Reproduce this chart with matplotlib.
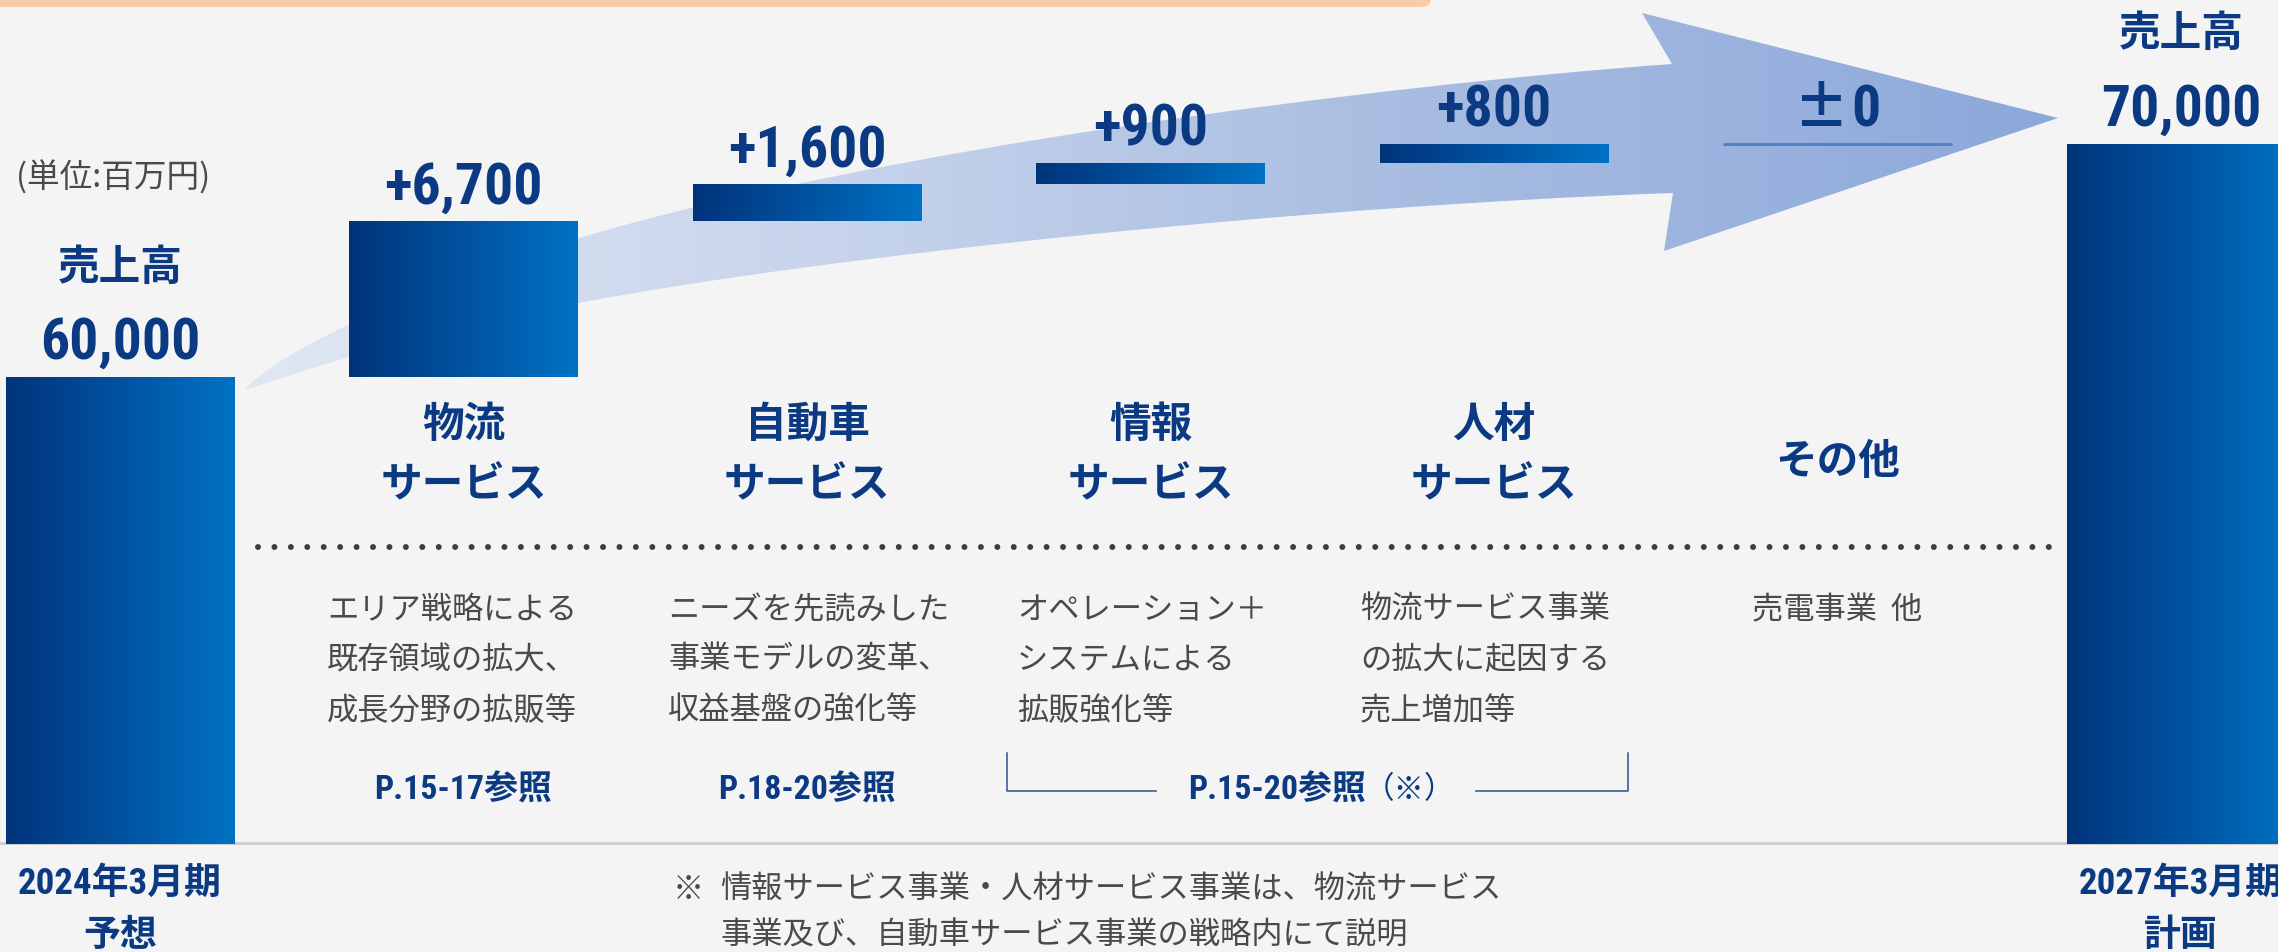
import numpy as np
import matplotlib
matplotlib.use("Agg")
import matplotlib.pyplot as plt
import matplotlib.transforms as mtrans
from matplotlib import font_manager as fm
from matplotlib.path import Path
from matplotlib.patches import PathPatch, FancyBboxPatch
from matplotlib.colors import LinearSegmentedColormap

# ---------------- data ----------------
start_label = ["2024年3月期", "予想"]
end_label = ["2027年3月期", "計画"]
total_title = "売上高"
start_value = 60000
end_value = 70000
start_value_label = "60,000"
end_value_label = "70,000"
segment_names = [["物流", "サービス"], ["自動車", "サービス"], ["情報", "サービス"],
                 ["人材", "サービス"], ["その他"]]
deltas = [6700, 1600, 900, 800, 0]
delta_labels = ["+6,700", "+1,600", "+900", "+800", "±0"]
descriptions = [
    ["エリア戦略による", "既存領域の拡大、", "成長分野の拡販等"],
    ["ニーズを先読みした", "事業モデルの変革、", "収益基盤の強化等"],
    ["オペレーション＋", "システムによる", "拡販強化等"],
    ["物流サービス事業", "の拡大に起因する", "売上増加等"],
    ["売電事業  他"],
]
page_refs = ["P.15-17参照", "P.18-20参照", "P.15-20参照"]
shared_ref_suffix = "（※）"
unit_label = "(単位:百万円)"
note_mark = "※"
note_lines = ["情報サービス事業・人材サービス事業は、物流サービス",
              "事業及び、自動車サービス事業の戦略内にて説明"]

# ---------------- fonts ----------------
def pick_condensed():
    entries = fm.fontManager.ttflist
    names = {e.name for e in entries}
    for p in ["Liberation Sans Narrow", "Roboto Condensed", "Noto Sans Condensed",
              "DejaVu Sans Condensed", "Open Sans Condensed", "Arial Narrow"]:
        if p in names:
            return p, "normal"
    for fam in ["Noto Sans", "DejaVu Sans", "Roboto", "Open Sans"]:
        for e in entries:
            if e.name == fam and str(e.stretch) in ("condensed", "semi-condensed",
                                                    "extra-condensed", "ultra-condensed"):
                return fam, e.stretch
    return "Noto Sans CJK JP", "normal"

COND, COND_STRETCH = pick_condensed()
NUM = [COND, "Noto Sans CJK JP", "DejaVu Sans"]
JP = ["Noto Sans CJK JP", "DejaVu Sans"]

# ---------------- style ----------------
W, H = 2278, 952
BG = "#f4f4f4"
NAVY = "#0b3a82"
GRAY = "#4a4a4a"
BASE = 40000             # value at the bottom of the bars
STEP, X0PX = 343.5, 120  # pixels per category, pixel centre of first bar
PX_VAL = 30000 / 700     # value units per pixel
BAR_W = 0.664

fig = plt.figure(figsize=(W / 100, H / 100), dpi=100, facecolor=BG)
ax = fig.add_axes([0, 0, 1, 1])
ax.set_facecolor(BG)
ax.axis("off")
XLIM = (-X0PX / STEP, (W - X0PX) / STEP)
YLIM = (BASE - 108 * PX_VAL, end_value + 144 * PX_VAL)
ax.set_xlim(*XLIM)
ax.set_ylim(*YLIM)
renderer = fig.canvas.get_renderer()

T_pix = mtrans.Affine2D().scale(1 / W, -1 / H).translate(0, 1) + fig.transFigure
T_xd = mtrans.blended_transform_factory(ax.transData, T_pix)


def fit_size(text, size, target_px, **kw):
    t = fig.text(0, 0, text, fontsize=size, **kw)
    w = t.get_window_extent(renderer).width
    t.remove()
    return size * min(1.0, target_px / w)


NUMKW = dict(family=NUM, fontstretch=COND_STRETCH, fontweight="bold")
BIG = fit_size(start_value_label, 45, 160, **NUMKW)
REF = fit_size(page_refs[0], 25, 178, **NUMKW)
PER = fit_size(start_label[0], 28, 204, **NUMKW)

# top decorative band
band = FancyBboxPatch((-20, -30), 1451, 37, boxstyle="round,pad=0,rounding_size=9",
                      transform=T_pix, facecolor="#f9cba9", edgecolor="none", zorder=1)
ax.add_patch(band)

# ---------------- big curved arrow (decoration) ----------------
verts = [(245, 390),
         (270, 355), (420, 285), (579, 238),
         (879, 149), (1372, 86), (1672, 64),
         (1642, 13), (2058, 118), (1664, 251), (1673, 193),
         (1323, 205), (829, 255), (579, 303),
         (429, 328), (300, 372), (245, 390)]
codes = [Path.MOVETO,
         Path.CURVE4, Path.CURVE4, Path.CURVE4,
         Path.CURVE4, Path.CURVE4, Path.CURVE4,
         Path.LINETO, Path.LINETO, Path.LINETO, Path.LINETO,
         Path.CURVE4, Path.CURVE4, Path.CURVE4,
         Path.CURVE4, Path.CURVE4, Path.CURVE4]
arrow = PathPatch(Path(verts, codes), transform=T_pix, facecolor="none",
                  edgecolor="none", zorder=1)
ax.add_patch(arrow)
arrow_cmap = LinearSegmentedColormap.from_list(
    "arr", ["#e0e7f4", "#c6d3eb", "#a6bbe1", "#8ca8da"])


def px2x(p):
    return XLIM[0] + p / W * (XLIM[1] - XLIM[0])


def py2y(p):
    return YLIM[1] - p / H * (YLIM[1] - YLIM[0])


g = np.linspace(0, 1, 512).reshape(1, -1)
im = ax.imshow(g, cmap=arrow_cmap, aspect="auto", interpolation="bilinear",
               extent=[px2x(240), px2x(2062), py2y(400), py2y(0)], zorder=1)
im.set_clip_path(arrow)

# ---------------- waterfall bars ----------------
n = len(deltas)
positions = np.arange(n + 2)
cum = start_value + np.concatenate([[0], np.cumsum(deltas)[:-1]])
bottoms = np.concatenate([[BASE], cum, [BASE]])
heights = np.concatenate([[start_value - BASE], deltas, [end_value - BASE]])
bars = ax.bar(positions, heights, bottom=bottoms, width=BAR_W,
              color="none", edgecolor="none", zorder=3)
bar_cmap = LinearSegmentedColormap.from_list("bar", ["#00347a", "#0052a0", "#0072c3"])
for b, h in zip(bars, heights):
    if h <= 0:
        continue
    x0, y0 = b.get_x(), b.get_y()
    gi = ax.imshow(g, cmap=bar_cmap, aspect="auto", interpolation="bilinear",
                   extent=[x0, x0 + b.get_width(), y0, y0 + b.get_height()], zorder=3)
    gi.set_clip_path(b)
# zero-change segment drawn as a line
for i, d in enumerate(deltas):
    if d == 0:
        ax.hlines(cum[i], positions[i + 1] - BAR_W / 2, positions[i + 1] + BAR_W / 2,
                  color="#4f7fc0", lw=2, zorder=3)

# baseline separator
ax.plot([0, W], [843, 843], transform=T_pix, color="#cfcfcf", lw=2.2, zorder=2)

# ---------------- labels ----------------
off = 12.5  # points above bar top
for i, (d, lbl) in enumerate(zip(deltas, delta_labels)):
    top = cum[i] + d
    xy = (positions[i + 1], top)
    if lbl.startswith("±"):
        ax.annotate("±", xy=xy, xytext=(8, off), textcoords="offset points",
                    ha="right", va="baseline", fontsize=BIG * 0.95, fontweight="bold",
                    family=JP, color=NAVY, zorder=5)
        ax.annotate(lbl[1:], xy=xy, xytext=(10, off), textcoords="offset points",
                    ha="left", va="baseline", fontsize=BIG, color=NAVY, zorder=5, **NUMKW)
    else:
        ax.annotate(lbl, xy=xy, xytext=(0, off), textcoords="offset points",
                    ha="center", va="baseline", fontsize=BIG, color=NAVY, zorder=5, **NUMKW)
for pos, val, vlbl in [(positions[0], start_value, start_value_label),
                       (positions[-1], end_value, end_value_label)]:
    ax.annotate(vlbl, xy=(pos, val), xytext=(0, off + 1), textcoords="offset points",
                ha="center", va="baseline", fontsize=BIG, color=NAVY, zorder=5, **NUMKW)
    ax.annotate(total_title, xy=(pos, val), xytext=(0, 79), textcoords="offset points",
                ha="center", va="center", fontsize=30, fontweight="bold",
                family=JP, color=NAVY, zorder=5)

ax.text(16, 178, unit_label, transform=T_pix, ha="left", va="center",
        fontsize=23.5, family=JP, color=GRAY)

# category names
for i, lines in enumerate(segment_names):
    ys = [425, 485] if len(lines) == 2 else [462]
    for ln, yy in zip(lines, ys):
        ax.text(positions[i + 1], yy, ln, transform=T_xd, ha="center", va="center",
                fontsize=30, fontweight="bold", family=JP, color=NAVY, zorder=5)

# dotted divider
ax.plot([258, 2053], [547, 547], transform=T_pix, color="#3d3d3d", lw=4.3,
        linestyle=(0, (0.001, 2.75)), dash_capstyle="round", zorder=4)

# descriptions
desc_x = [327, 668, 1017, 1360, 1752]
for xx, lines in zip(desc_x, descriptions):
    for ln, yy in zip(lines, [610, 660, 711]):
        ax.text(xx, yy, ln, transform=T_pix, ha="left", va="center",
                fontsize=22.5, family=JP, color=GRAY, zorder=5)

# page references
ax.text(463, 790, page_refs[0], transform=T_pix, ha="center", va="center",
        fontsize=REF, color=NAVY, zorder=5, **NUMKW)
ax.text(807, 790, page_refs[1], transform=T_pix, ha="center", va="center",
        fontsize=REF, color=NAVY, zorder=5, **NUMKW)
ax.text(1366, 790, page_refs[2], transform=T_pix, ha="right", va="center",
        fontsize=REF, color=NAVY, zorder=5, **NUMKW)
ax.text(1364, 790, shared_ref_suffix, transform=T_pix, ha="left", va="center",
        fontsize=22, family=JP, color=NAVY, zorder=5)
ax.plot([1007, 1007, 1156], [753, 791, 791], transform=T_pix, color="#2d4f8e", lw=1.1)
ax.plot([1476, 1628, 1628], [791, 791, 753], transform=T_pix, color="#2d4f8e", lw=1.1)

# period labels
for pos, lines in [(positions[0], start_label), (positions[-1], end_label)]:
    for ln, yy in zip(lines, [884, 936]):
        ax.text(pos, yy, ln, transform=T_xd, ha="center", va="center",
                fontsize=PER, color=NAVY, zorder=5, **NUMKW)

# footnote
ax.text(673, 890, note_mark, transform=T_pix, ha="left", va="center",
        fontsize=22.5, family=JP, color=GRAY)
for ln, yy in zip(note_lines, [890, 936]):
    ax.text(720, yy, ln, transform=T_pix, ha="left", va="center",
            fontsize=22.5, family=JP, color=GRAY)

ax.set_xlim(*XLIM)
ax.set_ylim(*YLIM)
fig.savefig("out.png", dpi=100, facecolor=BG)
